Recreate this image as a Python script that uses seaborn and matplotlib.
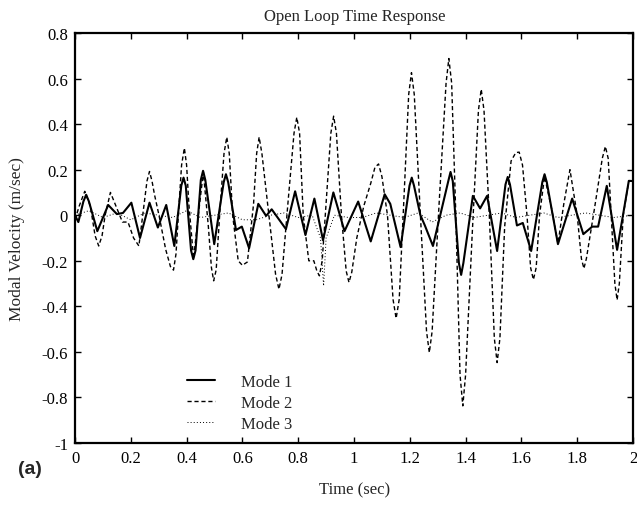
import numpy as np
import pandas as pd
import matplotlib
matplotlib.use('Agg')
import matplotlib.pyplot as plt
import seaborn as sns

# values (time in sec, velocity in m/sec)
mode1_t = [0.000, 0.012, 0.030, 0.040, 0.050, 0.080, 0.119, 0.150, 0.172, 0.202,
           0.233, 0.267, 0.297, 0.327, 0.356, 0.381, 0.389, 0.397, 0.416, 0.424,
           0.432, 0.451, 0.459, 0.467, 0.499, 0.533, 0.541, 0.549, 0.577, 0.598,
           0.624, 0.657, 0.685, 0.705, 0.756, 0.789, 0.826, 0.858, 0.889, 0.926,
           0.966, 1.015, 1.060, 1.110, 1.130, 1.167, 1.199, 1.207, 1.215, 1.238,
           1.254, 1.283, 1.338, 1.346, 1.354, 1.376, 1.384, 1.392, 1.426, 1.452,
           1.477, 1.513, 1.543, 1.551, 1.559, 1.584, 1.605, 1.635, 1.675, 1.683,
           1.691, 1.731, 1.782, 1.822, 1.854, 1.875, 1.906, 1.943, 1.985, 2.000]
mode1_v = [0.00, -0.03, 0.06, 0.09, 0.06, -0.07, 0.045, 0.005, 0.01, 0.055,
           -0.10, 0.055, -0.054, 0.045, -0.135, 0.13, 0.165, 0.13, -0.155, -0.193,
           -0.155, 0.155, 0.195, 0.155, -0.127, 0.145, 0.18, 0.145, -0.065, -0.05,
           -0.145, 0.05, -0.003, 0.026, -0.061, 0.105, -0.087, 0.073, -0.11, 0.10,
           -0.07, 0.06, -0.115, 0.092, 0.05, -0.14, 0.13, 0.165, 0.13, 0.0,
           -0.045, -0.135, 0.15, 0.19, 0.15, -0.21, -0.262, -0.21, 0.085, 0.03,
           0.085, -0.157, 0.135, 0.168, 0.135, -0.045, -0.034, -0.157, 0.145, 0.18,
           0.145, -0.127, 0.073, -0.083, -0.05, -0.05, 0.129, -0.152, 0.151, 0.15]

mode2_t = [0.000, 0.015, 0.035, 0.055, 0.072, 0.085, 0.097, 0.108, 0.127, 0.150,
           0.170, 0.190, 0.210, 0.229, 0.248, 0.258, 0.267, 0.276, 0.285, 0.301,
           0.325, 0.342, 0.353, 0.362, 0.372, 0.382, 0.392, 0.400, 0.408, 0.425,
           0.442, 0.460, 0.478, 0.489, 0.497, 0.506, 0.520, 0.534, 0.544, 0.553,
           0.565, 0.585, 0.600, 0.618, 0.640, 0.651, 0.660, 0.670, 0.695, 0.719,
           0.731, 0.742, 0.763, 0.785, 0.795, 0.805, 0.818, 0.838, 0.856, 0.867,
           0.876, 0.886, 0.900, 0.917, 0.927, 0.937, 0.955, 0.972, 0.982, 0.992,
           1.010, 1.035, 1.060, 1.075, 1.088, 1.100, 1.120, 1.140, 1.151, 1.162,
           1.180, 1.196, 1.206, 1.216, 1.238, 1.260, 1.270, 1.280, 1.305, 1.330,
           1.340, 1.350, 1.365, 1.380, 1.390, 1.400, 1.423, 1.446, 1.456, 1.466,
           1.485, 1.503, 1.513, 1.523, 1.540, 1.563, 1.580, 1.592, 1.604, 1.620,
           1.633, 1.643, 1.653, 1.665, 1.683, 1.708, 1.731, 1.752, 1.774, 1.800,
           1.815, 1.824, 1.833, 1.862, 1.890, 1.901, 1.911, 1.922, 1.935, 1.943,
           1.951, 1.965, 1.985, 2.000]
mode2_v = [-0.02, 0.04, 0.105, 0.04, -0.09, -0.135, -0.09, 0.0, 0.10, 0.03,
           -0.03, -0.03, -0.10, -0.135, 0.05, 0.15, 0.192, 0.15, 0.09, 0.0,
           -0.15, -0.225, -0.241, -0.17, 0.03, 0.22, 0.295, 0.22, 0.05, -0.19,
           0.0, 0.19, -0.05, -0.23, -0.288, -0.24, 0.03, 0.27, 0.343, 0.27,
           0.0, -0.20, -0.22, -0.205, 0.05, 0.27, 0.343, 0.27, 0.0, -0.26,
           -0.325, -0.26, 0.05, 0.36, 0.43, 0.36, 0.0, -0.20, -0.20, -0.245,
           -0.266, -0.20, 0.05, 0.36, 0.435, 0.36, 0.0, -0.245, -0.295, -0.25,
           -0.10, 0.04, 0.14, 0.21, 0.225, 0.17, 0.0, -0.37, -0.453, -0.37,
           0.10, 0.53, 0.626, 0.53, 0.0, -0.51, -0.603, -0.51, 0.05, 0.58,
           0.688, 0.58, 0.0, -0.70, -0.837, -0.70, -0.10, 0.46, 0.553, 0.46,
           0.0, -0.54, -0.647, -0.54, -0.05, 0.238, 0.275, 0.277, 0.22, 0.0,
           -0.23, -0.283, -0.23, 0.0, 0.17, 0.03, -0.125, 0.05, 0.20, 0.0,
           -0.19, -0.234, -0.19, 0.03, 0.25, 0.302, 0.25, 0.0, -0.30, -0.372,
           -0.30, 0.0, 0.151, 0.15]

mode3_t = [0.00, 0.05, 0.10, 0.15, 0.20, 0.25, 0.30, 0.35, 0.40, 0.45,
           0.50, 0.55, 0.60, 0.65, 0.70, 0.75, 0.80, 0.85, 0.880, 0.891,
           0.900, 0.93, 0.98, 1.03, 1.08, 1.13, 1.18, 1.23, 1.28, 1.33,
           1.38, 1.43, 1.48, 1.53, 1.58, 1.63, 1.68, 1.73, 1.78, 1.83,
           1.88, 1.93, 2.00]
mode3_v = [0.0, 0.02, -0.01, 0.01, -0.02, 0.01, 0.0, -0.01, 0.02, -0.01,
           0.0, 0.01, -0.02, -0.02, 0.0, 0.01, -0.01, 0.0, -0.10, -0.31,
           -0.10, 0.0, -0.01, -0.01, 0.01, 0.0, -0.01, 0.01, -0.03, 0.0,
           0.01, -0.01, 0.0, 0.01, -0.01, 0.0, 0.01, -0.01, 0.0, 0.01,
           0.0, -0.01, 0.0]

x_ticks = [0, 0.2, 0.4, 0.6, 0.8, 1, 1.2, 1.4, 1.6, 1.8, 2]
y_ticks = [-1, -0.8, -0.6, -0.4, -0.2, 0, 0.2, 0.4, 0.6, 0.8]

sns.set_style('ticks')
plt.rcParams['font.family'] = ['Liberation Serif', 'DejaVu Serif']

fig = plt.figure(figsize=(6.37, 5.06), dpi=100)
ax = fig.add_axes([75 / 637, 62 / 506, 558 / 637, 410 / 506])

sns.lineplot(x=mode1_t, y=mode1_v, ax=ax, color='black', lw=1.5, label='Mode 1')
sns.lineplot(x=mode2_t, y=mode2_v, ax=ax, color='black', lw=1.0,
             label='Mode 2', linestyle=(0, (3, 2)))
sns.lineplot(x=mode3_t, y=mode3_v, ax=ax, color='black', lw=0.7,
             label='Mode 3', linestyle=(0, (1, 2.2)))

ax.set_xlim(0, 2)
ax.set_ylim(-1, 0.8)
ax.set_xticks(x_ticks)
ax.set_yticks(y_ticks)
ax.set_xticklabels(['%g' % v for v in x_ticks])
ax.set_yticklabels(['%g' % v for v in y_ticks])
ax.tick_params(direction='in', length=4, width=1, top=True, right=True,
               labelsize=12, colors='black', pad=5)
for s in ax.spines.values():
    s.set_linewidth(1.6)
    s.set_color('black')

# legend: handle from t=0.4 to 0.5, text starting at the 0.6 tick
ax.legend(loc='lower left', bbox_to_anchor=(0.2, 0.028), frameon=False,
          borderpad=0, borderaxespad=0, handlelength=1.7, handletextpad=1.55,
          labelspacing=0.3, fontsize=12)

fig.text(355 / 637, 1 - 17 / 506, 'Open Loop Time Response', ha='center', va='center', fontsize=12)
fig.text(355 / 637, 1 - 490 / 506, 'Time (sec)', ha='center', va='center', fontsize=12)
fig.text(17 / 637, 1 - 239 / 506, 'Modal Velocity (m/sec)', ha='center', va='center',
         rotation=90, fontsize=12.5)
fig.text(18 / 637, 1 - 470 / 506, '(a)', ha='left', va='center', fontsize=14,
         fontweight='bold', family=['Liberation Sans', 'DejaVu Sans'])

fig.savefig('out.png', dpi=100)
